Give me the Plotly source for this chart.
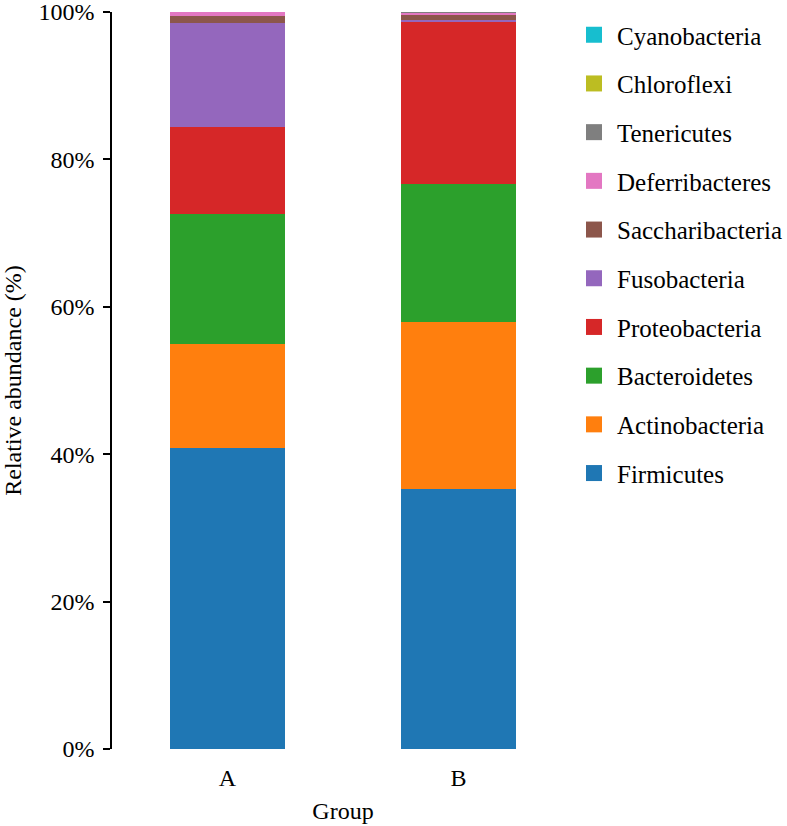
import plotly.graph_objects as go

groups = ["A", "B"]
phyla = ["Firmicutes", "Actinobacteria", "Bacteroidetes", "Proteobacteria", "Fusobacteria",
         "Saccharibacteria", "Deferribacteres", "Tenericutes", "Chloroflexi", "Cyanobacteria"]
colors = ["#1f77b4", "#ff7f0e", "#2ca02c", "#d62728", "#9467bd",
          "#8c564b", "#e377c2", "#7f7f7f", "#bcbd22", "#17becf"]

# values (%); the last phyla are too thin to be seen
firmicutes = [40.9, 35.3]
actinobacteria = [14.0, 22.65]
bacteroidetes = [17.65, 18.7]
proteobacteria = [11.85, 22.1]
fusobacteria = [14.15, 0.15]
saccharibacteria = [0.9, 0.8]
deferribacteres = [0.55, 0.2]
tenericutes = [0.0, 0.1]
chloroflexi = [0.0, 0.0]
cyanobacteria = [0.0, 0.0]

values = [firmicutes, actinobacteria, bacteroidetes, proteobacteria, fusobacteria,
          saccharibacteria, deferribacteres, tenericutes, chloroflexi, cyanobacteria]

y_ticks = [0, 20, 40, 60, 80, 100]
y_tick_labels = ["0%", "20%", "40%", "60%", "80%", "100%"]

FONT = "Liberation Serif"

fig = go.Figure()
for name, vals, col in zip(phyla, values, colors):
    fig.add_trace(go.Bar(x=groups, y=vals, name=name, marker=dict(color=col, line=dict(width=0)),
                         showlegend=False, width=0.5))

# legend entries (top to bottom)
for name, col in reversed(list(zip(phyla, colors))):
    fig.add_trace(go.Scatter(x=[None], y=[None], mode="markers", name=name, legendgroup=name,
                             marker=dict(symbol="square", size=16, color=col), showlegend=True))

fig.update_layout(
    barmode="stack",
    width=787, height=826,
    margin=dict(l=112, r=213, t=12, b=77, autoexpand=False),
    plot_bgcolor="white", paper_bgcolor="white",
    font=dict(family=FONT, size=24, color="black"),
    legend=dict(x=1.0 - 3 / 462, xanchor="left", y=1.0, yanchor="top", traceorder="grouped",
                tracegroupgap=13.2, itemwidth=36,
                font=dict(family=FONT, size=25, color="black"),
                itemsizing="trace", bgcolor="rgba(0,0,0,0)"),
)
fig.update_xaxes(type="category", categoryorder="array", categoryarray=groups,
                 range=[-0.5, 1.5], showline=False, showgrid=False, zeroline=False,
                 ticks="", ticklabelstandoff=12, automargin=False,
                 title=dict(text="Group", standoff=12, font=dict(family=FONT, size=24)))
fig.update_yaxes(range=[0, 100], tickmode="array", tickvals=y_ticks, ticktext=y_tick_labels,
                 showline=True, automargin=False, ticklabeloverflow="allow",
                 ticklabelstandoff=4,
                 linecolor="black", linewidth=1.5, ticks="outside", ticklen=7,
                 tickcolor="black", tickwidth=1.5, showgrid=False, zeroline=False,
                 title=dict(text="Relative abundance (%)", standoff=14,
                            font=dict(family=FONT, size=24)))

fig.write_html("out.html", config={"displayModeBar": False},
               post_script="document.body.style.margin='0';")
